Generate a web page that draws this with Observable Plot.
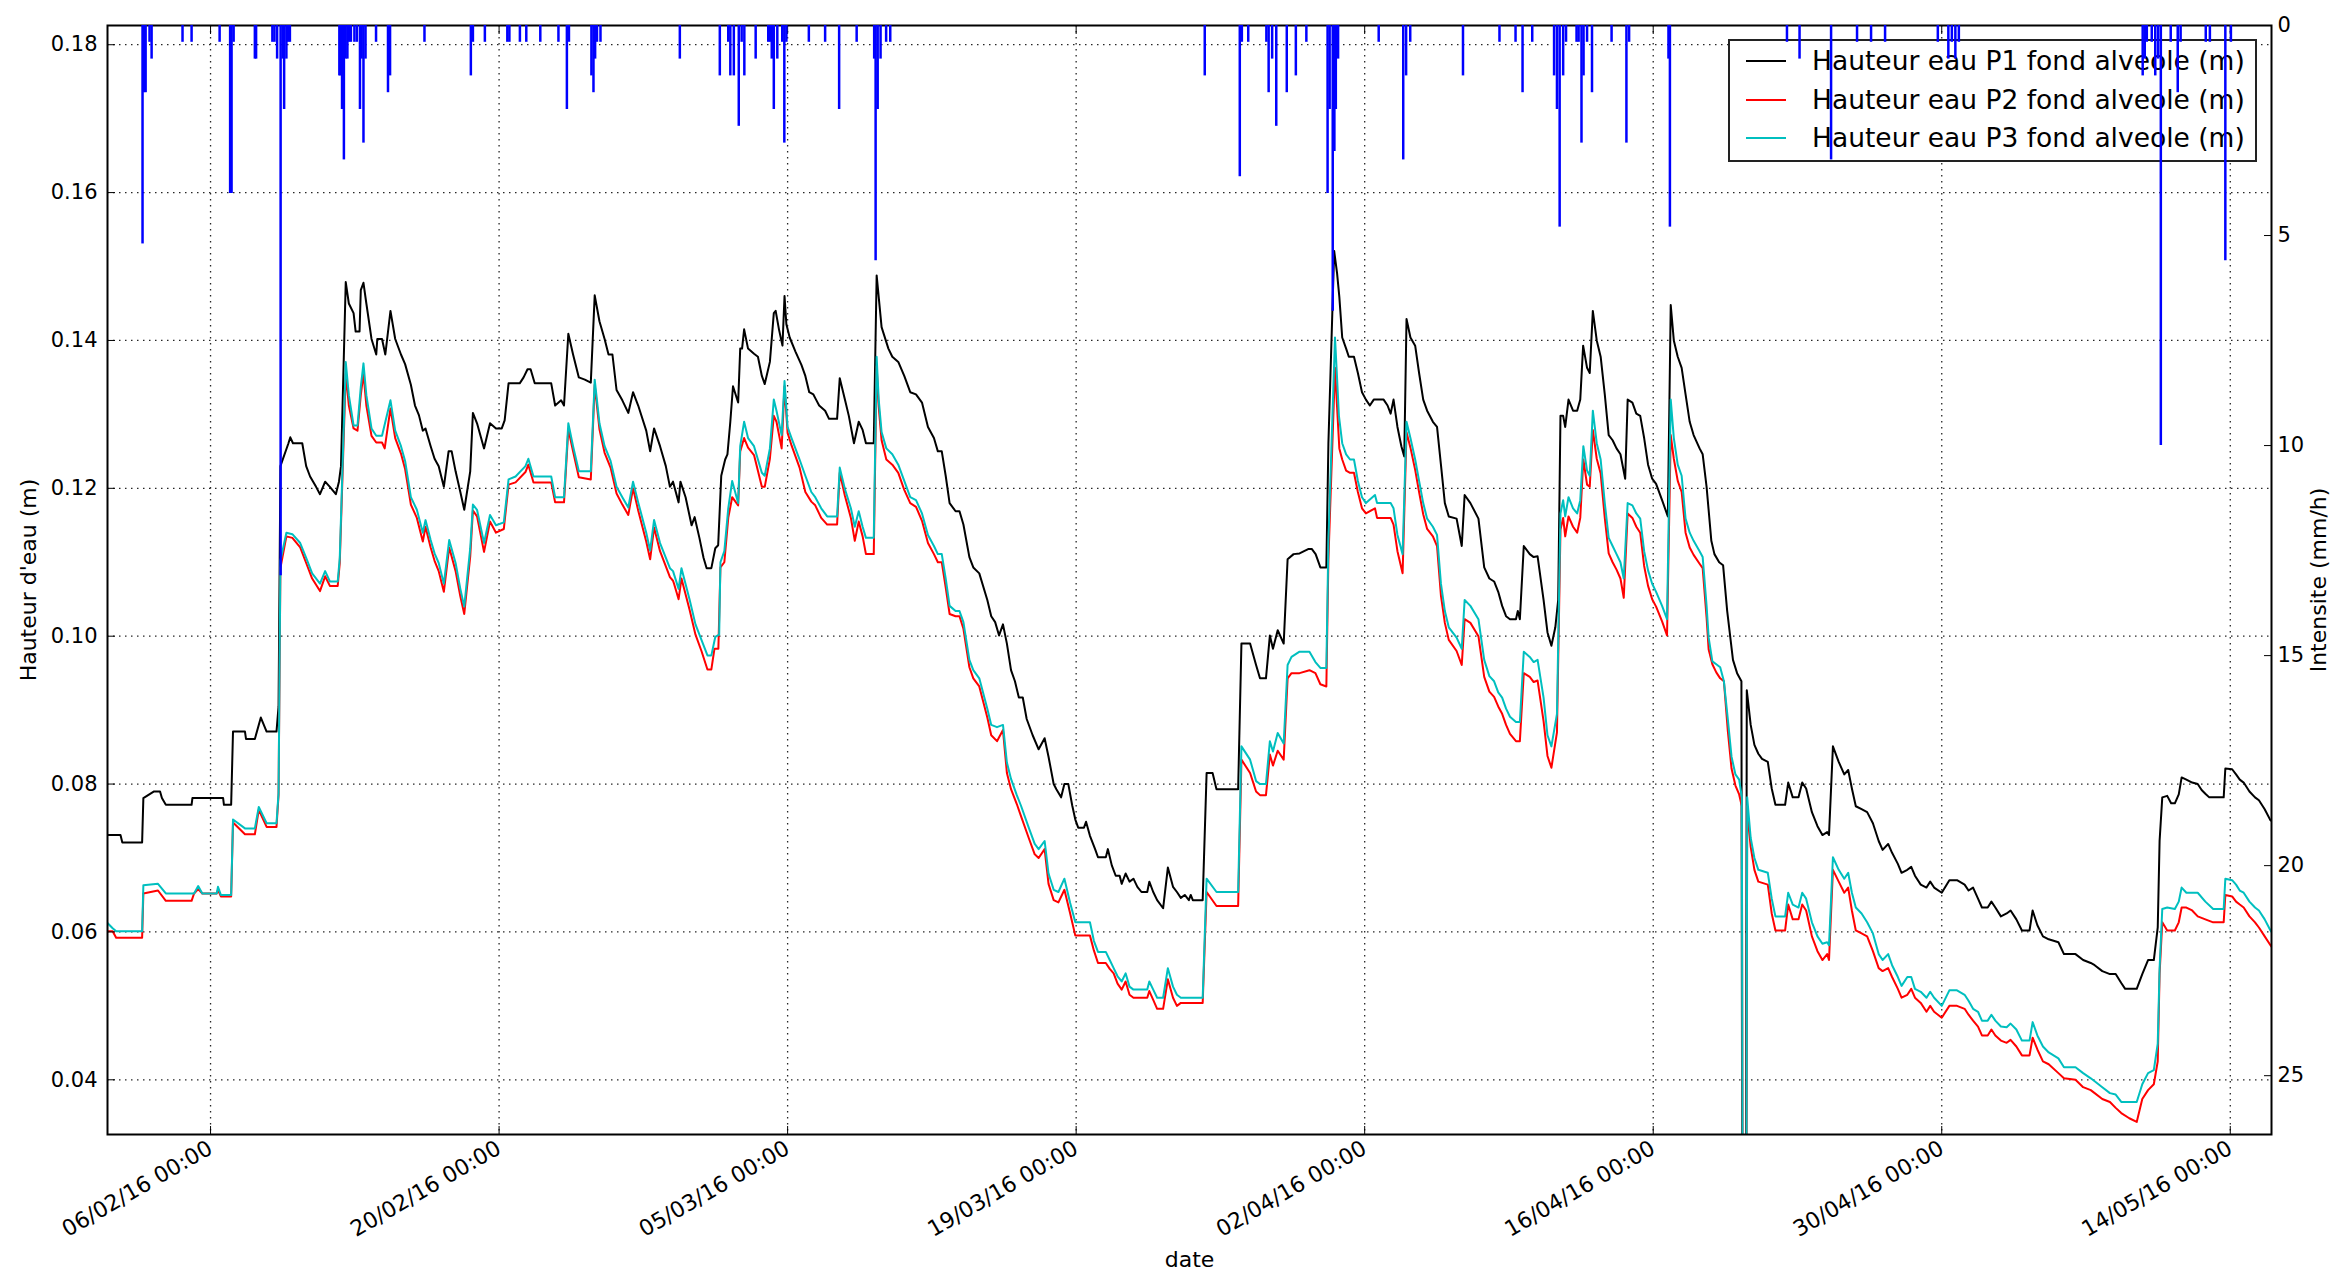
<!DOCTYPE html>
<html>
<head>
<meta charset="utf-8">
<script src="https://cdn.jsdelivr.net/npm/d3@7"></script>
<script src="https://cdn.jsdelivr.net/npm/@observablehq/plot@0.6"></script>
<style>
  html, body { margin: 0; padding: 0; background: #fff; }
  #wrap { position: relative; width: 2333px; height: 1271px; overflow: hidden; background: #fff; }
  #wrap svg { position: absolute; left: 0; top: 0; }
  #legend { position: absolute; box-sizing: border-box; background: #fff; border: 2px solid #222; font-family: "DejaVu Sans"; color: #000; }
  .lrow { position: absolute; left: 0; height: 0; }
  .lline { position: absolute; height: 2px; top: -1px; }
  .ltext { position: absolute; white-space: nowrap; line-height: 1; transform: translateY(-50%); }
</style>
</head>
<body>
<div id="wrap"></div>
<script>
// ---------- data (day offsets from 01/02/2016 00:00 UTC) ----------
const startDate = "2016-02-01T00:00:00Z";
const xDomainDays = [0, 105];
const xTickDates = ["2016-02-06", "2016-02-20", "2016-03-05", "2016-03-19", "2016-04-02", "2016-04-16", "2016-04-30", "2016-05-14"];
const yDomain = [0.0326, 0.1826];
const yTicks = [0.04, 0.06, 0.08, 0.10, 0.12, 0.14, 0.16, 0.18];
const rainDomain = [0, 26.4];
const rainTicks = [0, 5, 10, 15, 20, 25];
const seriesNames = ["Hauteur eau P1 fond alveole (m)", "Hauteur eau P2 fond alveole (m)", "Hauteur eau P3 fond alveole (m)"];

const p1 = [
[0,0.0731],[0.63,0.0731],[0.72,0.0721],[1.68,0.0721],[1.74,0.0781],[2.26,0.0790],[2.55,0.0790],[2.64,0.0781],[2.83,0.0772],[4.08,0.0772],[4.12,0.0781],[5.61,0.0781],[5.65,0.0772],[6.0,0.0772],[6.09,0.0871],[6.67,0.0871],[6.72,0.0861],[7.15,0.0861],[7.44,0.0890],[7.72,0.0871],[8.2,0.0871],[8.3,0.0905],[8.39,0.1230],[8.78,0.1261],[8.87,0.1269],[9.0,0.1261],[9.45,0.1261],[9.64,0.1230],[9.83,0.1216],[10.12,0.1202],[10.31,0.1192],[10.56,0.1209],[10.79,0.1202],[11.08,0.1192],[11.23,0.1209],[11.33,0.1230],[11.56,0.1479],[11.71,0.1450],[11.94,0.1437],[12.04,0.1412],[12.23,0.1412],[12.29,0.1468],[12.42,0.1478],[12.56,0.1450],[12.81,0.1402],[13.04,0.1381],[13.09,0.1402],[13.32,0.1402],[13.48,0.1381],[13.73,0.1440],[13.96,0.1402],[14.24,0.1381],[14.44,0.1368],[14.72,0.1340],[14.92,0.1312],[15.11,0.1299],[15.30,0.1278],[15.43,0.1281],[15.68,0.1257],[15.87,0.1240],[16.07,0.1230],[16.32,0.1202],[16.55,0.1250],[16.70,0.1250],[16.89,0.1223],[17.12,0.1195],[17.31,0.1171],[17.60,0.1223],[17.73,0.1302],[17.93,0.1288],[18.27,0.1254],[18.56,0.1288],[18.85,0.1281],[19.13,0.1281],[19.27,0.1292],[19.46,0.1342],[20.0,0.1342],[20.19,0.1350],[20.38,0.1361],[20.53,0.1361],[20.73,0.1342],[21.53,0.1342],[21.72,0.1312],[22.01,0.1319],[22.15,0.1312],[22.36,0.1409],[22.59,0.1381],[22.87,0.1350],[23.16,0.1347],[23.45,0.1343],[23.64,0.1461],[23.87,0.1426],[24.12,0.1402],[24.31,0.1381],[24.5,0.1381],[24.7,0.1333],[24.98,0.1319],[25.27,0.1302],[25.5,0.1330],[25.75,0.1312],[26.14,0.1278],[26.33,0.1250],[26.52,0.1281],[26.81,0.1257],[27.09,0.1230],[27.29,0.1202],[27.44,0.1209],[27.71,0.1181],[27.8,0.1209],[28.05,0.1188],[28.34,0.1150],[28.49,0.1161],[28.72,0.1133],[28.92,0.1106],[29.07,0.1092],[29.3,0.1092],[29.49,0.1119],[29.63,0.1123],
[29.78,0.1217],[29.97,0.1239],[30.08,0.1246],[30.22,0.1290],[30.35,0.1338],[30.6,0.1316],[30.7,0.1389],[30.79,0.1389],[30.89,0.1415],[31.08,0.1389],[31.37,0.1382],[31.56,0.1378],[31.75,0.1352],[31.89,0.1341],[32.14,0.1371],[32.33,0.1437],[32.42,0.1440],[32.58,0.1415],[32.75,0.1393],[32.85,0.1460],[32.94,0.1422],[33.1,0.1404],[33.38,0.1385],[33.67,0.1367],[33.86,0.1352],[34.05,0.1330],[34.25,0.1327],[34.38,0.1320],[34.53,0.1312],[34.82,0.1305],[35.01,0.1294],[35.4,0.1294],[35.53,0.1349],[35.78,0.1320],[35.97,0.1298],[36.22,0.1261],[36.45,0.1290],[36.64,0.1279],[36.8,0.1261],[37.18,0.1261],[37.32,0.1488],[37.56,0.1418],[37.64,0.1411],[37.89,0.1389],[38.08,0.1378],[38.37,0.1371],[38.66,0.1352],[38.95,0.1330],[39.23,0.1327],[39.52,0.1316],[39.81,0.1283],[40.1,0.1268],[40.29,0.1250],[40.48,0.1250],[40.67,0.1217],[40.86,0.1180],[41.15,0.1169],[41.34,0.1169],[41.53,0.1151],[41.82,0.1107],[42.01,0.1093],[42.3,0.1085],[42.69,0.1049],[42.88,0.1027],[43.07,0.1019],[43.26,0.1001],[43.45,0.1016],[43.64,0.0990],[43.84,0.0954],[44.03,0.0939],[44.22,0.0917],[44.41,0.0917],[44.6,0.0888],[44.89,0.0866],[45.18,0.0847],[45.47,0.0862],[45.66,0.0837],[45.91,0.0800],[46.04,0.0793],[46.27,0.0782],[46.43,0.0800],[46.62,0.0800],[46.81,0.0771],[46.96,0.0752],[47.1,0.0741],[47.38,0.0741],[47.48,0.0749],[47.67,0.0730],[47.92,0.0712],[48.06,0.0701],[48.44,0.0701],[48.54,0.0712],[48.73,0.0690],[48.92,0.0676],[49.11,0.0676],[49.21,0.0665],[49.4,0.0679],[49.59,0.0668],[49.78,0.0672],[49.97,0.0661],[50.17,0.0654],[50.45,0.0654],[50.55,0.0668],[50.74,0.0654],[50.93,0.0643],[51.22,0.0632],[51.45,0.0687],[51.7,0.0661],[51.89,0.0654],[52.08,0.0646],[52.27,0.0650],[52.47,0.0643],[52.56,0.0650],[52.66,0.0643],[53.14,0.0643],[53.33,0.0815],[53.62,0.0815],[53.81,0.0793],[54.86,0.0793],[55.02,0.0990],[55.44,0.0990],[55.73,0.0961],[55.92,0.0943],[56.21,0.0943],[56.4,0.1001],[56.55,0.0983],[56.78,0.1008],[57.07,0.0990],[57.26,0.1104],[57.55,0.1111],[57.84,0.1112],
[58.28,0.1118],[58.43,0.1118],[58.62,0.1111],[58.85,0.1093],[59.14,0.1093],[59.24,0.1261],[59.52,0.1521],[59.66,0.1491],[59.77,0.1459],[59.91,0.1404],[60.1,0.1389],[60.23,0.1378],[60.48,0.1378],[60.67,0.1356],[60.87,0.1330],[61.06,0.1320],[61.25,0.1312],[61.44,0.1320],[61.92,0.1320],[62.11,0.1312],[62.26,0.1301],[62.4,0.1320],[62.59,0.1283],[62.78,0.1257],[62.92,0.1243],[63.03,0.1429],[63.22,0.1404],[63.45,0.1393],[63.64,0.1356],[63.84,0.1320],[64.03,0.1305],[64.31,0.1290],[64.51,0.1283],[64.7,0.1232],[64.89,0.1180],[65.08,0.1162],[65.46,0.1159],[65.71,0.1122],[65.85,0.1191],[66.13,0.1180],[66.52,0.1159],[66.8,0.1093],[67.05,0.1078],[67.28,0.1074],[67.48,0.1060],[67.67,0.1041],[67.86,0.1027],[68.05,0.1023],[68.34,0.1023],[68.43,0.1034],[68.53,0.1023],[68.72,0.1122],[69.01,0.1111],[69.2,0.1107],[69.39,0.1108],[69.68,0.1049],[69.87,0.1005],[70.06,0.0987],[70.25,0.1012],[70.39,0.1049],[70.5,0.1298],[70.63,0.1298],[70.73,0.1283],[70.89,0.1320],[71.11,0.1305],[71.31,0.1305],[71.46,0.1320],[71.6,0.1393],[71.79,0.1363],[71.92,0.1356],[72.07,0.1440],[72.26,0.1400],[72.45,0.1378],[72.65,0.1327],[72.84,0.1272],[73.03,0.1265],[73.22,0.1254],[73.41,0.1246],[73.64,0.1213],[73.76,0.1320],[73.99,0.1316],[74.18,0.1301],[74.37,0.1298],[74.56,0.1268],[74.75,0.1232],[74.95,0.1213],[75.14,0.1206],[75.43,0.1184],[75.71,0.1162],[75.85,0.1448],[76.0,0.1400],[76.19,0.1378],[76.38,0.1363],[76.57,0.1327],[76.77,0.1290],[76.96,0.1272],[77.25,0.1254],[77.4,0.1246],[77.59,0.1202],[77.82,0.1129],[77.97,0.1111],[78.2,0.1100],[78.39,0.1096],[78.59,0.1034],[78.87,0.0968],[79.07,0.0950],[79.28,0.0939],
[79.32,0.02],[79.5,0.02],[79.54,0.0927],[79.73,0.0880],[79.91,0.0853],[80.1,0.0841],[80.28,0.0834],[80.56,0.0830],[80.75,0.0794],[80.93,0.0772],[81.4,0.0772],[81.55,0.0802],[81.77,0.0782],[82.05,0.0782],[82.23,0.0802],[82.42,0.0794],[82.7,0.0762],[82.97,0.0743],[83.21,0.0731],[83.44,0.0735],[83.53,0.0731],[83.72,0.0851],[84.0,0.0830],[84.27,0.0813],[84.46,0.0819],[84.64,0.0794],[84.83,0.0770],[85.11,0.0766],[85.38,0.0762],[85.66,0.0747],[85.94,0.0723],[86.13,0.0711],[86.4,0.0719],[86.59,0.0707],[86.87,0.0692],[87.05,0.0680],[87.33,0.0684],[87.52,0.0688],[87.7,0.0676],[87.98,0.0664],[88.26,0.0660],[88.44,0.0668],[88.63,0.0660],[89.0,0.0653],[89.37,0.0670],[89.74,0.0670],[90.11,0.0664],[90.3,0.0656],[90.52,0.0660],[90.76,0.0645],[90.95,0.0633],[91.23,0.0633],[91.41,0.0641],[91.6,0.0633],[91.87,0.0621],[92.15,0.0625],[92.34,0.0629],[92.62,0.0617],[92.89,0.0602],[93.26,0.0602],[93.41,0.0629],[93.64,0.0609],[93.91,0.0594],[94.19,0.0590],[94.66,0.0586],[94.93,0.0570],[95.49,0.0570],[95.86,0.0562],[96.23,0.0558],[96.42,0.0555],[96.79,0.0547],[97.16,0.0543],[97.44,0.0543],[97.71,0.0531],[97.9,0.0523],[98.46,0.0523],[98.73,0.0543],[99.01,0.0562],[99.29,0.0562],[99.48,0.0606],[99.57,0.0723],[99.7,0.0782],[99.94,0.0784],[100.13,0.0774],[100.31,0.0774],[100.5,0.0786],[100.64,0.0809],[100.87,0.0806],[101.15,0.0802],[101.42,0.0800],[101.61,0.0792],[101.79,0.0787],[101.98,0.0782],[102.68,0.0782],[102.76,0.0821],[103.09,0.0820],[103.28,0.0813],[103.46,0.0806],[103.65,0.0802],[103.93,0.0790],[104.2,0.0782],[104.39,0.0778],[104.67,0.0766],[104.95,0.0751],[105,0.0750]
];

const p2 = [
[0,0.0601],[0.25,0.0601],[0.42,0.0592],[1.68,0.0592],[1.74,0.0652],[2.45,0.0656],[2.83,0.0642],[4.08,0.0642],[4.2,0.0652],[4.4,0.0658],[4.6,0.0652],[5.3,0.0652],[5.36,0.0657],[5.5,0.0648],[6.0,0.0648],[6.09,0.0748],[6.67,0.0732],[7.15,0.0732],[7.34,0.0765],[7.72,0.0742],[8.2,0.0742],[8.3,0.0785],[8.39,0.1092],[8.68,0.1135],[8.97,0.1133],[9.35,0.1120],[9.64,0.1099],[9.93,0.1078],[10.31,0.1061],[10.56,0.1081],[10.79,0.1068],[11.17,0.1068],[11.27,0.1099],[11.56,0.1355],[11.71,0.1312],[11.94,0.1281],[12.13,0.1278],[12.29,0.1326],[12.42,0.1355],[12.56,0.1312],[12.81,0.1271],[13.04,0.1262],[13.32,0.1262],[13.45,0.1254],[13.73,0.1308],[13.96,0.1268],[14.24,0.1247],[14.44,0.1226],[14.72,0.1178],[15.01,0.1160],[15.30,0.1128],[15.43,0.1148],[15.68,0.1120],[15.87,0.1102],[16.07,0.1088],[16.32,0.1060],[16.58,0.1120],[16.89,0.1088],[17.12,0.1054],[17.31,0.1030],[17.60,0.1108],[17.73,0.1170],[17.93,0.1162],[18.27,0.1114],[18.56,0.1155],[18.85,0.1140],[19.23,0.1145],[19.46,0.1205],[19.8,0.1208],[20.28,0.1222],[20.42,0.1232],[20.67,0.1208],[21.53,0.1208],[21.72,0.1181],[22.15,0.1181],[22.36,0.1280],[22.59,0.1250],[22.87,0.1215],[23.45,0.1212],[23.64,0.1340],[23.87,0.1280],[24.12,0.1248],[24.41,0.1228],[24.7,0.1193],[24.98,0.1178],[25.27,0.1164],[25.5,0.1200],[25.75,0.1170],[26.14,0.1128],[26.33,0.1104],[26.52,0.1147],[26.81,0.1115],[27.29,0.1080],[27.44,0.1075],[27.5,0.1070],[27.71,0.1050],[27.85,0.1078],[28.24,0.1036],[28.53,0.1002],[28.82,0.0980],[29.11,0.0955],[29.3,0.0955],[29.45,0.0983],[29.64,0.0983],
[29.74,0.1093],[29.93,0.1100],[30.12,0.1160],[30.31,0.1188],[30.6,0.1177],[30.7,0.1250],[30.89,0.1268],[31.08,0.1255],[31.37,0.1245],[31.75,0.1202],[31.89,0.1202],[32.14,0.1240],[32.33,0.1298],[32.46,0.1290],[32.71,0.1254],[32.85,0.1338],[33.0,0.1275],[33.19,0.1258],[33.58,0.1228],[33.86,0.1195],[34.15,0.1182],[34.34,0.1177],[34.63,0.1160],[34.92,0.1151],[35.4,0.1151],[35.53,0.1221],[35.78,0.1190],[36.07,0.1160],[36.26,0.1129],[36.45,0.1155],[36.64,0.1135],[36.8,0.1111],[37.18,0.1111],[37.32,0.1365],[37.42,0.1310],[37.56,0.1265],[37.79,0.1239],[38.08,0.1232],[38.37,0.1221],[38.66,0.1198],[38.95,0.1180],[39.23,0.1175],[39.52,0.1156],[39.81,0.1126],[40.1,0.1111],[40.29,0.1100],[40.48,0.1100],[40.67,0.1066],[40.86,0.1030],[41.15,0.1027],[41.34,0.1027],[41.53,0.1010],[41.82,0.0958],[42.01,0.0943],[42.3,0.0932],[42.69,0.0890],[42.88,0.0866],[43.16,0.0858],[43.45,0.0873],[43.64,0.0815],[43.84,0.0793],[44.12,0.0773],[44.32,0.0757],[44.7,0.0727],[44.99,0.0705],[45.18,0.0700],[45.47,0.0712],[45.66,0.0665],[45.91,0.0643],[46.14,0.0640],[46.43,0.0657],[46.71,0.0625],[46.96,0.0595],[47.67,0.0595],[47.86,0.0575],[48.06,0.0558],[48.44,0.0558],[48.63,0.0550],[48.82,0.0544],[49.01,0.0530],[49.21,0.0522],[49.4,0.0533],[49.59,0.0515],[49.78,0.0511],[50.45,0.0511],[50.55,0.0520],[50.74,0.0508],[50.93,0.0496],[51.22,0.0496],[51.45,0.0536],[51.7,0.0511],[51.89,0.0500],[52.08,0.0504],[53.14,0.0504],[53.33,0.0654],[53.81,0.0635],[54.86,0.0635],[55.02,0.0833],[55.44,0.0815],[55.73,0.0790],[55.92,0.0785],[56.21,0.0785],[56.4,0.0840],[56.55,0.0825],[56.78,0.0845],[57.07,0.0833],[57.26,0.0943],[57.45,0.0950],[57.84,0.0950],[58.32,0.0954],[58.61,0.0950],[58.85,0.0935],
[59.14,0.0932],[59.24,0.1104],[59.56,0.1363],[59.66,0.1310],[59.77,0.1254],[59.91,0.1239],[60.1,0.1224],[60.29,0.1221],[60.48,0.1221],[60.67,0.1195],[60.87,0.1173],[61.06,0.1166],[61.5,0.1173],[61.6,0.1160],[62.26,0.1160],[62.4,0.1151],[62.59,0.1115],[62.84,0.1085],[63.03,0.1276],[63.22,0.1255],[63.45,0.1225],[63.64,0.1195],[63.84,0.1165],[64.03,0.1145],[64.31,0.1135],[64.51,0.1122],[64.7,0.1055],[64.89,0.1018],[65.08,0.0995],[65.46,0.0980],[65.71,0.0961],[65.85,0.1023],[66.13,0.1018],[66.52,0.1000],[66.8,0.0945],[67.05,0.0925],[67.28,0.0918],[67.48,0.0905],[67.67,0.0895],[67.86,0.0880],[68.05,0.0868],[68.34,0.0858],[68.53,0.0858],[68.72,0.0950],[69.01,0.0945],[69.2,0.0938],[69.39,0.0940],[69.68,0.0885],[69.87,0.0838],[70.06,0.0822],[70.33,0.0870],[70.5,0.1144],[70.63,0.1160],[70.73,0.1135],[70.89,0.1162],[71.11,0.1148],[71.31,0.1140],[71.46,0.1160],[71.61,0.1239],[71.79,0.1205],[71.92,0.1202],[72.07,0.1279],[72.26,0.1240],[72.45,0.1220],[72.65,0.1160],[72.84,0.1112],[73.03,0.1100],[73.22,0.1090],[73.41,0.1078],[73.57,0.1052],[73.76,0.1166],[73.99,0.1160],[74.18,0.1148],[74.37,0.1140],[74.56,0.1095],[74.75,0.1068],[74.95,0.1050],[75.14,0.1040],[75.43,0.1020],[75.67,0.1001],[75.85,0.1272],[76.0,0.1240],[76.19,0.1210],[76.38,0.1195],[76.57,0.1140],[76.77,0.1120],[76.96,0.1110],[77.25,0.1098],[77.4,0.1092],[77.59,0.1025],
[77.69,0.0982],[77.87,0.0962],[78.06,0.0951],[78.25,0.0943],[78.43,0.0939],[78.62,0.0872],[78.8,0.0821],[78.99,0.0798],[79.17,0.0786],[79.3,0.0770],[79.34,0.02],[79.52,0.02],[79.56,0.0770],[79.62,0.0747],[79.73,0.0715],[79.91,0.0684],[80.1,0.0668],[80.56,0.0664],[80.75,0.0625],[80.93,0.0602],[81.4,0.0602],[81.55,0.0637],[81.77,0.0617],[82.05,0.0617],[82.23,0.0637],[82.42,0.0629],[82.7,0.0594],[82.97,0.0574],[83.21,0.0562],[83.44,0.0570],[83.53,0.0562],[83.72,0.0684],[84.0,0.0668],[84.27,0.0653],[84.46,0.0660],[84.64,0.0629],[84.83,0.0602],[85.11,0.0598],[85.38,0.0594],[85.66,0.0574],[85.94,0.0551],[86.13,0.0547],[86.4,0.0551],[86.59,0.0539],[86.87,0.0523],[87.05,0.0511],[87.33,0.0515],[87.52,0.0523],[87.7,0.0511],[87.98,0.0504],[88.26,0.0492],[88.44,0.0500],[88.63,0.0492],[89.0,0.0484],[89.37,0.0500],[89.74,0.0500],[90.11,0.0496],[90.3,0.0488],[90.52,0.0480],[90.76,0.0472],[90.95,0.0460],[91.23,0.0460],[91.41,0.0468],[91.6,0.0460],[91.87,0.0453],[92.15,0.0450],[92.34,0.0454],[92.62,0.0445],[92.89,0.0433],[93.26,0.0433],[93.41,0.0457],[93.64,0.0441],[93.91,0.0425],[94.19,0.0421],[94.66,0.0409],[94.93,0.0402],[95.49,0.0400],[95.86,0.0390],[96.23,0.0386],[96.42,0.0382],[96.79,0.0374],[97.16,0.0370],[97.44,0.0362],[97.71,0.0355],[98.1,0.0348],[98.46,0.0343],[98.73,0.0374],[99.01,0.0386],[99.29,0.0394],[99.48,0.0425],[99.57,0.0543],[99.7,0.0613],[99.94,0.0602],[100.31,0.0602],[100.5,0.0613],[100.64,0.0633],[100.87,0.0633],[101.15,0.0629],[101.42,0.0621],[101.79,0.0617],[102.17,0.0613],[102.68,0.0613],[102.76,0.0650],[103.09,0.0648],[103.28,0.0641],[103.46,0.0637],[103.65,0.0633],[103.93,0.0621],[104.2,0.0613],[104.39,0.0606],[104.67,0.0594],[104.95,0.0582],[105,0.0580]
];

const p3 = [
[0,0.0612],[0.25,0.0605],[0.42,0.0601],[1.68,0.0601],[1.74,0.0663],[2.45,0.0665],[2.83,0.0652],[4.2,0.0652],[4.4,0.0662],[4.6,0.0652],[5.3,0.0652],[5.36,0.0661],[5.5,0.0650],[6.0,0.0650],[6.09,0.0752],[6.67,0.0740],[7.15,0.0740],[7.34,0.0769],[7.72,0.0747],[8.2,0.0747],[8.3,0.0788],[8.39,0.1102],[8.68,0.1140],[8.97,0.1138],[9.35,0.1126],[9.64,0.1106],[9.93,0.1085],[10.31,0.1071],[10.56,0.1088],[10.79,0.1074],[11.17,0.1074],[11.27,0.1106],[11.56,0.1371],[11.71,0.1326],[11.94,0.1285],[12.13,0.1285],[12.29,0.1337],[12.42,0.1369],[12.56,0.1326],[12.81,0.1281],[13.04,0.1271],[13.32,0.1271],[13.73,0.1319],[13.96,0.1278],[14.24,0.1257],[14.44,0.1237],[14.72,0.1188],[15.01,0.1171],[15.30,0.1140],[15.43,0.1157],[15.68,0.1130],[15.87,0.1112],[16.07,0.1099],[16.32,0.1071],[16.58,0.1130],[16.89,0.1099],[17.12,0.1064],[17.31,0.1040],[17.60,0.1119],[17.73,0.1178],[17.93,0.1171],[18.27,0.1126],[18.56,0.1164],[18.85,0.1150],[19.23,0.1154],[19.46,0.1212],[19.8,0.1216],[20.28,0.1230],[20.42,0.1240],[20.67,0.1216],[21.53,0.1216],[21.72,0.1188],[22.15,0.1188],[22.36,0.1288],[22.59,0.1257],[22.87,0.1223],[23.45,0.1223],[23.64,0.1347],[23.87,0.1288],[24.12,0.1257],[24.41,0.1237],[24.7,0.1202],[24.98,0.1188],[25.27,0.1174],[25.5,0.1209],[25.75,0.1181],[26.14,0.1140],[26.33,0.1116],[26.52,0.1157],[26.81,0.1126],[27.29,0.1092],[27.44,0.1088],[27.71,0.1064],[27.85,0.1092],[28.24,0.1050],[28.53,0.1016],[28.82,0.0995],[29.11,0.0974],[29.3,0.0974],[29.49,0.0999],[29.68,0.1002],
[29.74,0.1100],[29.93,0.1115],[30.12,0.1173],[30.31,0.1210],[30.6,0.1180],[30.7,0.1257],[30.89,0.1290],[31.08,0.1268],[31.37,0.1257],[31.75,0.1221],[31.89,0.1217],[32.14,0.1254],[32.33,0.1320],[32.46,0.1305],[32.71,0.1272],[32.85,0.1345],[33.0,0.1283],[33.19,0.1268],[33.58,0.1239],[33.86,0.1217],[34.15,0.1195],[34.34,0.1188],[34.63,0.1173],[34.92,0.1162],[35.4,0.1162],[35.53,0.1228],[35.78,0.1199],[36.07,0.1173],[36.26,0.1148],[36.45,0.1169],[36.64,0.1148],[36.8,0.1133],[37.18,0.1133],[37.32,0.1378],[37.42,0.1320],[37.56,0.1276],[37.79,0.1254],[38.08,0.1246],[38.37,0.1232],[38.66,0.1210],[38.95,0.1188],[39.23,0.1184],[39.52,0.1166],[39.81,0.1137],[40.1,0.1122],[40.29,0.1111],[40.48,0.1111],[40.67,0.1078],[40.86,0.1041],[41.15,0.1034],[41.34,0.1034],[41.53,0.1019],[41.82,0.0968],[42.01,0.0954],[42.3,0.0943],[42.69,0.0902],[42.88,0.0880],[43.16,0.0877],[43.45,0.0880],[43.64,0.0829],[43.84,0.0807],[44.12,0.0785],[44.32,0.0771],[44.7,0.0741],[44.99,0.0719],[45.18,0.0712],[45.47,0.0723],[45.66,0.0679],[45.91,0.0657],[46.14,0.0654],[46.43,0.0672],[46.71,0.0639],[46.96,0.0613],[47.67,0.0613],[47.86,0.0588],[48.06,0.0573],[48.44,0.0573],[48.63,0.0562],[48.82,0.0551],[49.01,0.0540],[49.21,0.0533],[49.4,0.0544],[49.59,0.0526],[49.78,0.0522],[50.45,0.0522],[50.55,0.0533],[50.74,0.0522],[50.93,0.0511],[51.22,0.0511],[51.45,0.0551],[51.7,0.0526],[51.89,0.0515],[52.08,0.0511],[53.14,0.0511],[53.33,0.0672],[53.81,0.0654],[54.86,0.0654],[55.02,0.0851],[55.44,0.0833],[55.73,0.0804],[55.92,0.0800],[56.21,0.0800],[56.4,0.0858],[56.55,0.0844],[56.78,0.0869],[57.07,0.0855],[57.26,0.0961],[57.45,0.0972],[57.84,0.0979],[58.32,0.0979],[58.61,0.0965],[58.85,0.0957],
[59.14,0.0957],[59.24,0.1129],[59.56,0.1404],[59.66,0.1349],[59.75,0.1298],[59.91,0.1261],[60.1,0.1246],[60.29,0.1239],[60.48,0.1239],[60.67,0.1210],[60.87,0.1188],[61.06,0.1180],[61.5,0.1191],[61.6,0.1180],[62.26,0.1180],[62.4,0.1173],[62.59,0.1137],[62.84,0.1111],[63.03,0.1290],[63.22,0.1268],[63.45,0.1239],[63.64,0.1210],[63.84,0.1180],[64.03,0.1159],[64.31,0.1148],[64.51,0.1137],[64.7,0.1071],[64.89,0.1034],[65.08,0.1012],[65.46,0.0998],[65.71,0.0983],[65.85,0.1049],[66.13,0.1041],[66.52,0.1023],[66.8,0.0968],[67.05,0.0946],[67.28,0.0939],[67.48,0.0924],[67.67,0.0917],[67.86,0.0902],[68.05,0.0891],[68.34,0.0884],[68.53,0.0884],[68.72,0.0979],[69.01,0.0972],[69.2,0.0965],[69.39,0.0968],[69.68,0.0917],[69.87,0.0866],[70.06,0.0851],[70.33,0.0895],[70.5,0.1166],[70.63,0.1184],[70.73,0.1162],[70.89,0.1188],[71.11,0.1173],[71.31,0.1166],[71.46,0.1184],[71.61,0.1257],[71.79,0.1224],[71.92,0.1217],[72.07,0.1305],[72.26,0.1261],[72.45,0.1239],[72.65,0.1180],[72.84,0.1133],[73.03,0.1122],[73.22,0.1111],[73.41,0.1100],[73.57,0.1078],[73.76,0.1180],[73.99,0.1177],[74.18,0.1166],[74.37,0.1159],[74.56,0.1115],[74.75,0.1089],[74.95,0.1071],[75.14,0.1060],[75.43,0.1041],[75.67,0.1023],[75.85,0.1320],[76.0,0.1268],[76.19,0.1232],[76.38,0.1217],[76.57,0.1159],[76.77,0.1140],[76.96,0.1129],[77.25,0.1115],[77.4,0.1107],[77.59,0.1041],
[77.69,0.0998],[77.87,0.0966],[78.06,0.0962],[78.25,0.0958],[78.43,0.0939],[78.62,0.0888],[78.8,0.0837],[78.99,0.0813],[79.17,0.0806],[79.3,0.0782],[79.34,0.02],[79.52,0.02],[79.56,0.0782],[79.62,0.0762],[79.73,0.0727],[79.91,0.0700],[80.1,0.0684],[80.56,0.0680],[80.75,0.0645],[80.93,0.0621],[81.4,0.0621],[81.55,0.0653],[81.77,0.0637],[82.05,0.0633],[82.23,0.0653],[82.42,0.0645],[82.7,0.0613],[82.97,0.0594],[83.21,0.0584],[83.44,0.0586],[83.53,0.0582],[83.72,0.0701],[84.0,0.0684],[84.27,0.0672],[84.46,0.0680],[84.64,0.0653],[84.83,0.0633],[85.11,0.0625],[85.38,0.0613],[85.66,0.0598],[85.94,0.0570],[86.13,0.0562],[86.4,0.0570],[86.59,0.0555],[86.87,0.0539],[87.05,0.0527],[87.33,0.0539],[87.52,0.0539],[87.7,0.0523],[87.98,0.0519],[88.26,0.0511],[88.44,0.0519],[88.63,0.0511],[89.0,0.0500],[89.37,0.0521],[89.74,0.0521],[90.11,0.0515],[90.3,0.0507],[90.52,0.0496],[90.76,0.0492],[90.95,0.0480],[91.23,0.0480],[91.41,0.0488],[91.6,0.0480],[91.87,0.0472],[92.15,0.0471],[92.34,0.0476],[92.62,0.0468],[92.89,0.0453],[93.26,0.0453],[93.41,0.0478],[93.64,0.0460],[93.91,0.0445],[94.19,0.0437],[94.66,0.0429],[94.93,0.0417],[95.49,0.0417],[95.86,0.0409],[96.23,0.0402],[96.42,0.0398],[96.79,0.0390],[97.16,0.0382],[97.44,0.0380],[97.71,0.0370],[98.46,0.0370],[98.73,0.0394],[99.01,0.0409],[99.29,0.0413],[99.48,0.0449],[99.57,0.0551],[99.7,0.0631],[99.94,0.0633],[100.31,0.0631],[100.5,0.0641],[100.64,0.0660],[100.87,0.0653],[101.15,0.0653],[101.42,0.0653],[101.79,0.0641],[102.17,0.0631],[102.68,0.0631],[102.76,0.0672],[103.09,0.0670],[103.28,0.0664],[103.46,0.0656],[103.65,0.0653],[103.93,0.0641],[104.2,0.0633],[104.39,0.0629],[104.67,0.0617],[104.95,0.0602],[105,0.0600]
];

// rain intensity (mm/h): [day, value]
const rain = [
[1.70,5.2],[1.77,1.6],[1.85,1.6],[2.04,0.4],[2.14,0.8],[3.64,0.4],[4.08,0.4],[5.44,0.4],[5.95,4.0],[6.02,4.0],[6.12,0.4],[7.15,0.8],[7.21,0.8],[8.0,0.4],[8.1,0.4],[8.23,0.8],[8.4,13.1],[8.5,0.8],[8.57,2.0],[8.68,0.8],[8.77,0.4],[8.85,0.4],
[11.25,1.2],[11.3,1.2],[11.38,2.0],[11.47,3.2],[11.55,0.8],[11.64,0.8],[11.72,0.4],[11.81,0.4],[11.98,0.4],[12.1,0.4],[12.25,2.0],[12.33,0.8],[12.42,2.8],[12.52,0.8],[13.03,0.4],[13.61,1.6],[13.71,1.2],[15.38,0.4],[17.63,1.2],[17.73,0.4],[18.31,0.4],[19.4,0.4],[19.5,0.4],[20.01,0.4],[20.32,0.4],[21.0,0.4],[21.88,0.4],[22.29,2.0],[22.39,0.4],[23.48,1.2],[23.58,1.6],[23.66,0.8],[23.75,0.4],[23.92,0.4],[27.77,0.8],
[29.71,1.2],[30.12,0.4],[30.22,1.2],[30.39,1.2],[30.63,2.4],[30.77,0.4],[30.9,1.2],[31.45,0.8],[32.06,0.4],[32.15,0.4],[32.23,0.8],[32.33,2.0],[32.5,0.8],[32.74,0.4],[32.84,2.8],[32.94,0.4],[34.03,0.4],[34.82,0.4],[35.5,2.0],[36.35,0.4],[37.2,0.8],[37.27,5.6],[37.37,2.0],[37.51,0.8],[37.78,0.4],[37.98,0.4],
[53.24,1.2],[54.94,3.6],[55.04,0.4],[55.35,0.4],[56.23,0.4],[56.34,1.6],[56.51,0.8],[56.71,2.4],[57.22,1.6],[57.66,1.2],[58.17,0.4],[59.2,4.0],[59.3,2.0],[59.45,6.8],[59.53,3.0],[59.6,2.0],[59.71,0.8],[61.68,0.4],[62.87,3.2],[63.01,1.2],[63.21,0.4],[65.77,1.2],[67.54,0.4],[68.32,0.4],[68.66,1.6],[69.13,0.4],[70.19,1.2],[70.33,2.0],[70.46,4.8],[70.63,1.2],[70.77,0.4],[71.28,0.4],[71.38,0.4],[71.52,2.8],[71.62,1.2],[71.79,0.4],[72.03,1.6],[72.98,0.4],[73.7,2.8],[73.83,0.4],[75.74,0.8],[75.81,4.8],
[81.49,0.4],[82.1,0.8],[83.63,3.2],[84.89,0.4],[85.57,0.4],[86.25,0.4],[88.81,0.4],[89.32,0.8],[89.49,0.4],[89.66,0.8],[89.83,0.4],[98.75,1.2],[98.85,0.8],[98.95,0.4],[99.19,0.4],[99.36,1.2],[99.5,0.8],[99.63,10.0],[100.11,0.4],[100.45,1.6],[100.59,0.4],[101.81,0.4],[102.01,0.4],[102.76,5.6],[103.03,0.4]
];

// ---------- drawing ----------
const X0 = new Date(startDate).getTime();
const toDate = d => new Date(X0 + d * 864e5);
const xTicks = xTickDates.map(s => new Date(s + "T00:00:00Z"));
const fmt = d3.utcFormat("%d/%m/%y %H:%M");

const W = 2333, H = 1271;
const common = {
  width: W, height: H,
  marginLeft: 107, marginRight: 62, marginTop: 25, marginBottom: 137,
  style: {fontFamily: "DejaVu Sans", fontSize: "21px", color: "#000", background: "transparent", overflow: "visible"}
};
const colors = ["#000000", "#ff0000", "#00bfbf"];
const gridStyle = {stroke: "#000", strokeOpacity: 0.85, strokeDasharray: "1.5,4.5", strokeWidth: 1.3};

const lineMark = (data, color) => Plot.line(data, {x: d => toDate(d[0]), y: d => d[1], stroke: color, strokeWidth: 2, clip: true});

const main = Plot.plot({
  ...common,
  x: {type: "utc", domain: xDomainDays.map(toDate)},
  y: {domain: yDomain},
  marks: [
    Plot.gridX(xTicks, gridStyle),
    Plot.gridY(yTicks, gridStyle),
    lineMark(p1, colors[0]),
    lineMark(p2, colors[1]),
    lineMark(p3, colors[2]),
    Plot.axisX(xTicks, {anchor: "bottom", tickFormat: fmt, tickRotate: -30, tickSize: -8, tickPadding: 20, fontSize: 22, label: null}),
    Plot.axisX({anchor: "bottom", ticks: [], label: "date", labelAnchor: "center", labelOffset: 132, labelArrow: "none", fontSize: 22}),
    Plot.axisX(xTicks, {anchor: "top", tickSize: -8, tickFormat: () => "", label: null}),
    Plot.axisY(yTicks, {anchor: "left", tickFormat: d3.format(".2f"), tickSize: -8, tickPadding: 18, fontSize: 21, label: null}),
    Plot.axisY({anchor: "left", ticks: [], label: "Hauteur d'eau (m)", labelAnchor: "center", labelOffset: 87, labelArrow: "none", fontSize: 22}),
    Plot.frame({stroke: "#000", strokeWidth: 2})
  ]
});

const over = Plot.plot({
  ...common,
  x: {type: "utc", domain: xDomainDays.map(toDate), axis: null},
  y: {domain: rainDomain, reverse: true},
  marks: [
    Plot.ruleX(rain, {x: d => toDate(d[0]), y1: 0, y2: d => d[1], stroke: "#0000ff", strokeWidth: 2.5}),
    Plot.axisY(rainTicks, {anchor: "right", tickSize: -8, tickPadding: 14, fontSize: 21, label: null}),
    Plot.axisY({anchor: "right", ticks: [], label: "Intensite (mm/h)", labelAnchor: "center", labelOffset: 54, labelArrow: "none", fontSize: 22})
  ]
});

const wrap = document.getElementById("wrap");
wrap.appendChild(main);

// legend (HTML, real text)
const legend = document.createElement("div");
legend.id = "legend";
Object.assign(legend.style, {left: "1728px", top: "39px", width: "529px", height: "123px"});
seriesNames.forEach((name, i) => {
  const row = document.createElement("div");
  row.className = "lrow";
  row.style.top = (20 + i * 38.7) + "px";
  const ln = document.createElement("div");
  ln.className = "lline";
  Object.assign(ln.style, {left: "16px", width: "40px", background: colors[i]});
  const tx = document.createElement("div");
  tx.className = "ltext";
  Object.assign(tx.style, {left: "82px", fontSize: "26.5px"});
  tx.textContent = name;
  row.appendChild(ln); row.appendChild(tx);
  legend.appendChild(row);
});
wrap.appendChild(legend);
wrap.appendChild(over);
</script>
</body>
</html>
